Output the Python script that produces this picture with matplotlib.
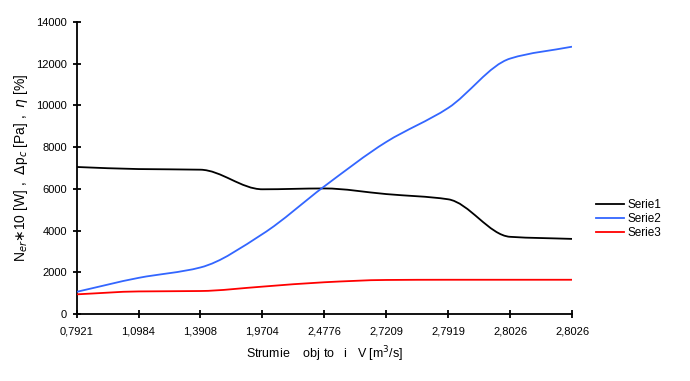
import numpy as np
import matplotlib.pyplot as plt
from matplotlib.path import Path
from matplotlib.patches import PathPatch
from matplotlib.lines import Line2D

plt.rcParams['font.family'] = ['Liberation Sans', 'DejaVu Sans']

categories = ["0,7921", "1,0984", "1,3908", "1,9704", "2,4776",
              "2,7209", "2,7919", "2,8026", "2,8026"]
serie1 = [7050, 6950, 6920, 5980, 6020, 5750, 5500, 3700, 3600]
serie2 = [1060, 1730, 2230, 3830, 6120, 8250, 9880, 12250, 12820]
serie3 = [940, 1080, 1100, 1310, 1520, 1630, 1640, 1640, 1640]
names = ["Serie1", "Serie2", "Serie3"]
colors = ["#000000", "#3366FF", "#FF0000"]


def smooth_path(x, y):
    # smoothed line: bezier segments with monotone tangents (no overshoot)
    x = np.asarray(x, float)
    y = np.asarray(y, float)
    n = len(x)
    d = np.diff(y) / np.diff(x)
    m = np.zeros(n)
    m[0], m[-1] = d[0], d[-1]
    for i in range(1, n - 1):
        if d[i - 1] * d[i] > 0:
            m[i] = 2 / (1 / d[i - 1] + 1 / d[i])
    verts = [(x[0], y[0])]
    codes = [Path.MOVETO]
    for i in range(n - 1):
        h = x[i + 1] - x[i]
        verts += [(x[i] + h / 3, y[i] + m[i] * h / 3),
                  (x[i + 1] - h / 3, y[i + 1] - m[i + 1] * h / 3),
                  (x[i + 1], y[i + 1])]
        codes += [Path.CURVE4] * 3
    return Path(verts, codes)


def main():
    fig = plt.figure(figsize=(6.9, 3.81), dpi=100)
    ax = fig.add_axes([0.111, 0.176, 0.718, 0.766])

    x = np.arange(len(categories))
    handles = []
    for data, name, c in zip([serie1, serie2, serie3], names, colors):
        patch = PathPatch(smooth_path(x, data), fill=False, edgecolor=c,
                          linewidth=1.3, zorder=3)
        ax.add_patch(patch)
        handles.append(Line2D([], [], color=c, linewidth=1.3, label=name))

    ax.set_xlim(0, len(categories) - 1)
    ax.set_ylim(0, 14000)
    ax.set_xticks(x)
    ax.set_xticklabels(categories)
    ax.set_yticks(np.arange(0, 14001, 2000))

    for s in ["top", "right"]:
        ax.spines[s].set_visible(False)
    for s in ["left", "bottom"]:
        ax.spines[s].set_linewidth(1.3)
        ax.spines[s].set_color("black")
    ax.tick_params(axis="both", direction="inout", length=6, width=1.3,
                   labelsize=8, pad=4)
    ax.tick_params(axis="x", pad=6)

    ax.set_xlabel("Strumie    obj to   i   V [m$^3$/s]", fontsize=9, labelpad=6)
    ax.set_ylabel(r"N$_{er}$$\ast$10 [W] ,  $\Delta$p$_{c}$ [Pa] ,  $\eta$ [%]",
                  fontsize=10, labelpad=4)

    fig.legend(handles=handles, loc="center left",
               bbox_to_anchor=(0.855, 0.425), frameon=False, fontsize=8.5,
               handlelength=2.4, handletextpad=0.3, labelspacing=0.15,
               borderpad=0)

    plt.savefig("out.png", dpi=100)


if __name__ == '__main__':
    main()
